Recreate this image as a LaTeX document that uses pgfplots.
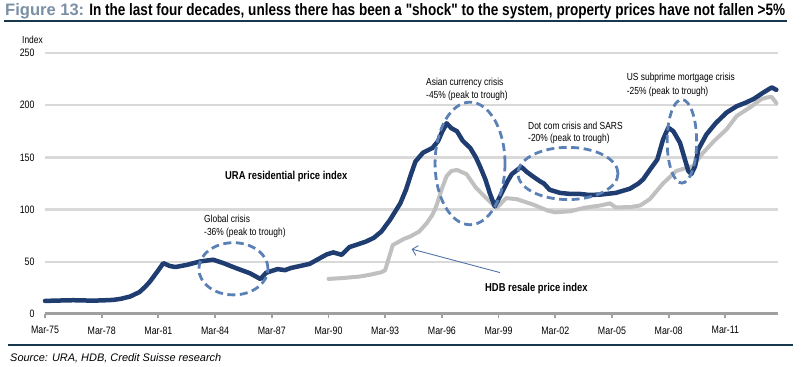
\documentclass[border=0pt]{standalone}
\usepackage{fontspec}
\setmainfont{Liberation Sans}[FakeStretch=0.82, Ligatures=TeXOff]
\newfontfamily\widefont{Liberation Sans}
\usepackage{pgfplots}
\pgfplotsset{compat=1.18}
\usetikzlibrary{arrows.meta}
\definecolor{ura}{RGB}{31,61,112}
\definecolor{hdb}{RGB}{192,192,192}
\definecolor{ell}{RGB}{91,128,181}
\definecolor{gridc}{RGB}{217,217,217}
\definecolor{axc}{RGB}{160,160,160}
\definecolor{rulec}{RGB}{23,55,77}
\definecolor{figc}{RGB}{122,143,165}
\definecolor{arrc}{RGB}{79,115,168}
\begin{document}
\begin{tikzpicture}
\useasboundingbox (0,0) rectangle (801bp,367bp);
\begin{axis}[
  at={(45bp,53bp)}, anchor=south west,
  scale only axis, width=732.7bp, height=261bp,
  xmin=1975, xmax=2013.77, ymin=0, ymax=250,
  axis line style={draw=none},
  clip=false,
  xtick={1975,1978,...,2011},
  xticklabels={Mar-75,Mar-78,Mar-81,Mar-84,Mar-87,Mar-90,Mar-93,Mar-96,Mar-99,Mar-02,Mar-05,Mar-08,Mar-11},
  xtick pos=lower, tick align=outside,
  major tick length=4bp,
  xtick style={axc, line width=1.8bp},
  ytick={0,50,...,250},
  ytick style={draw=none},
  ymajorgrids, grid style={gridc, line width=2.5bp},
  tick label style={font=\fontsize{10.8}{12}\selectfont, text=black},
  xticklabel style={yshift=-5bp},
  yticklabel style={xshift=-3bp},
  /pgf/number format/assume math mode=true,
]
\draw[axc, line width=3bp] (axis cs:1975,0) -- (axis cs:2013.77,0);
\addplot[hdb, line width=4bp, line join=round, line cap=round] coordinates {
(1990.0,33.6) (1990.8,34.5) (1991.7,36) (1992.3,38) (1992.8,40) (1993.0,42)
(1993.25,57) (1993.4,66) (1994.0,72) (1994.3,74) (1994.8,79) (1995.2,87)
(1995.5,95) (1995.7,103) (1996.0,120) (1996.25,132) (1996.5,137) (1996.8,138)
(1997.3,134) (1997.8,121) (1998.4,110) (1998.9,101.6) (1999.4,111) (1999.96,110)
(2000.8,105) (2001.6,99) (2002.0,97.4) (2002.8,98.4) (2003.5,101.6) (2004.4,104)
(2004.9,106) (2005.2,102) (2006.0,102.5) (2006.5,104) (2007.0,110) (2007.7,125)
(2008.4,137) (2008.95,140) (2009.3,141.6) (2009.75,153) (2010.4,165.7) (2011.07,177)
(2011.6,189.7) (2012.3,197.8) (2012.9,205.8) (2013.2,207.4) (2013.45,208) (2013.7,202)
};
\addplot[ura, line width=4.5bp, line join=round, line cap=round] coordinates {
(1975.0,12.5) (1975.5,12.8) (1976.0,13.0) (1976.5,13.2) (1977.0,13.0) (1977.5,12.8)
(1978.0,13.0) (1978.6,13.5) (1979.0,14.5) (1979.5,16.7) (1980.0,21) (1980.3,26)
(1980.55,31) (1981.0,42) (1981.26,48.7) (1981.6,46) (1981.9,45) (1982.5,47)
(1983.2,50.3) (1983.9,52) (1984.4,49) (1985.1,44) (1985.85,39) (1986.4,33.5)
(1986.7,39.5) (1987.3,43) (1987.7,42) (1988.0,44) (1988.5,46) (1989.0,48)
(1989.4,52) (1989.9,57) (1990.25,59) (1990.7,56.7) (1991.1,64) (1991.6,67)
(1992.0,69.5) (1992.4,73) (1992.8,79) (1993.25,90) (1993.8,106) (1994.1,119)
(1994.35,133) (1994.6,146) (1995.0,154.5) (1995.5,159) (1995.8,165.7) (1996.0,174)
(1996.25,182.7) (1996.5,178) (1996.8,175) (1997.1,166) (1997.5,159) (1997.8,150)
(1998.05,140) (1998.3,129) (1998.55,115) (1998.8,103) (1999.0,110) (1999.25,119)
(1999.5,128) (1999.7,134) (2000.2,141) (2000.5,136) (2000.8,132) (2001.2,127)
(2001.4,125) (2001.7,119) (2002.25,116) (2002.8,115) (2003.3,115) (2003.8,114)
(2004.4,114.4) (2005.2,116) (2005.95,120) (2006.4,125) (2006.65,129) (2007.0,138)
(2007.4,148) (2007.7,167) (2007.98,178.5) (2008.25,175) (2008.6,164) (2008.86,148)
(2009.04,137) (2009.2,134) (2009.4,141.6) (2009.57,157.7) (2010.0,172) (2010.5,183)
(2011.07,193) (2011.6,199) (2012.1,202.6) (2012.5,206) (2013.0,212) (2013.45,217)
(2013.7,214.7)
};
\begin{scope}[ell, line width=2.8bp, dash pattern=on 8bp off 4.5bp]
\draw (axis cs:1984.97,43.3) ellipse [x radius=1.83, y radius=25];
\draw (axis cs:1997.49,144.2) ellipse [x radius=1.85, y radius=58.7];
\draw (axis cs:2002.67,134.6) ellipse [x radius=2.65, y radius=25];
\draw (axis cs:2008.7,165.4) ellipse [x radius=0.78, y radius=40];
\end{scope}
\draw[arrc, line width=0.9bp, -{Straight Barb[length=5bp,width=10bp]}] (axis cs:1999.07,39.7) -- (axis cs:1994.4,62.2);
\end{axis}
% annotations
\begin{scope}[every node/.style={inner sep=0pt, anchor=west, font=\fontsize{10.3}{12}\selectfont}]
\node at (22bp,327bp) {Index};
\node at (204bp,148bp) {Global crisis};
\node at (204bp,134.3bp) {-36\% (peak to trough)};
\node at (426bp,283.7bp) {Asian currency crisis};
\node at (426bp,271bp) {-45\% (peak to trough)};
\node at (528bp,241bp) {Dot com crisis and SARS};
\node at (528bp,227.7bp) {-20\% (peak to trough)};
\node at (626.7bp,288.7bp) {US subprime mortgage crisis};
\node at (626.7bp,275.3bp) {-25\% (peak to trough)};
\node[font=\fontsize{11.5}{13}\selectfont\bfseries] at (225bp,190bp) {URA residential price index};
\node[font=\fontsize{11.5}{13}\selectfont\bfseries] at (485bp,78bp) {HDB resale price index};
\node at (5bp,356bp) {\resizebox{780bp}{!}{{\widefont\bfseries\color{figc}Figure 13:} \bfseries In the last four decades, unless there has been a "shock" to the system, property prices have not fallen >5\%}};
\node[font=\widefont\itshape\fontsize{11}{13}\selectfont] at (10bp,9bp) {Source: URA, HDB, Credit Suisse research};
\end{scope}
\draw[rulec, line width=2bp] (4bp,346bp) -- (787bp,346bp);
\draw[rulec, line width=2bp] (8bp,22bp) -- (793bp,22bp);
\end{tikzpicture}
\end{document}
